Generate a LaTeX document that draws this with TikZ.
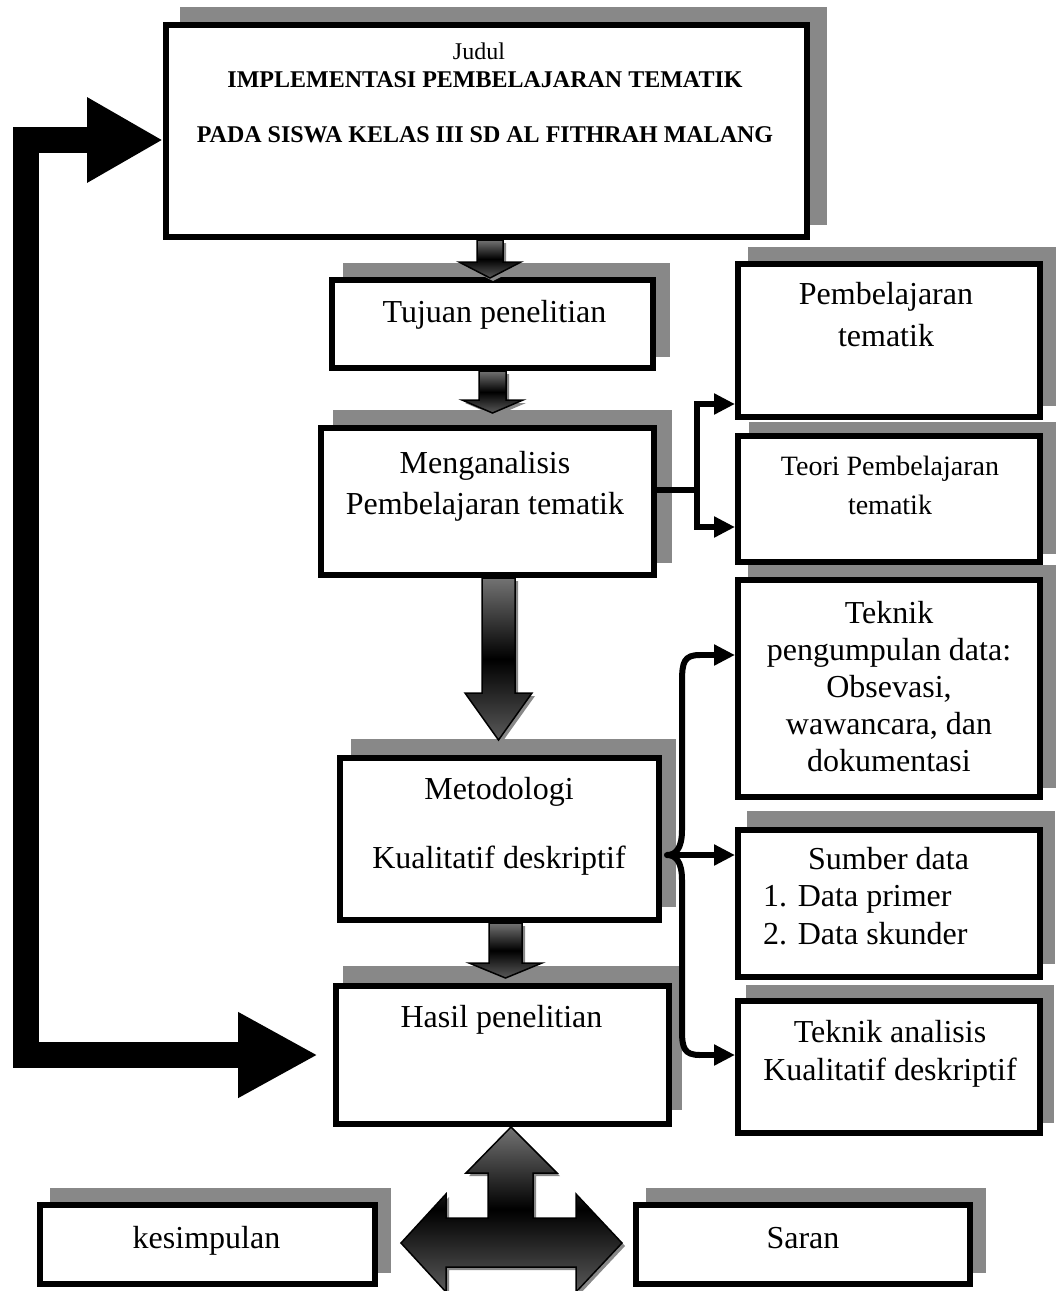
\documentclass[tikz,border=0pt]{standalone}
\usepackage{fontspec}
\setmainfont{Liberation Serif}
\usetikzlibrary{arrows.meta,calc,shadows,backgrounds}

\definecolor{bayang}{RGB}{136,136,136}

\tikzset{
  kotak/.style={draw, line width=6pt, fill=white, inner sep=0pt},
  teks/.style={inner sep=0pt, align=center, font=\fontsize{32}{41}\selectfont},
  garis/.style={line width=6pt, line join=round},
  panah/.style={line width=6pt, -{Triangle[length=21pt,width=20pt]}},
  blokpanah/.style={draw=black, line width=1.5pt, line join=miter,
    top color=black!55, bottom color=black!65, middle color=black,
    drop shadow={shadow xshift=3pt, shadow yshift=-3pt, fill=bayang, opacity=1}},
}

% panah blok turun: dari, ke, geser x, geser ujung, setengah batang, setengah kepala, panjang kepala
\newcommand{\panahturun}[7]{%
  \draw[blokpanah] let \p1=([xshift=#3]#1.south), \p2=([yshift=#4]#2.north) in
    (\x1-#5,\y1) -- (\x1+#5,\y1) -- (\x1+#5,\y2+#7) -- (\x1+#6,\y2+#7) -- (\x1,\y2)
    -- (\x1-#6,\y2+#7) -- (\x1-#5,\y2+#7) -- cycle;}

\begin{document}
\begin{tikzpicture}[x=1pt, y=-1pt]
        \useasboundingbox (0,0) rectangle (1056,1291);

        % kotak
        \node[kotak, minimum width=641pt, minimum height=212pt] (judul) at (486.5,131) {};
        \node[kotak, minimum width=321pt, minimum height=88pt] (tujuan) at (492.5,324) {};
        \node[kotak, minimum width=333pt, minimum height=147pt] (analisis) at (487.5,501.5) {};
        \node[kotak, minimum width=319pt, minimum height=162pt] (metode) at (499.5,839) {};
        \node[kotak, minimum width=333pt, minimum height=138pt] (hasil) at (502.5,1055) {};
        \node[kotak, minimum width=302pt, minimum height=153pt] (tematik) at (889,340.5) {};
        \node[kotak, minimum width=302pt, minimum height=126pt] (teori) at (889,499) {};
        \node[kotak, minimum width=302pt, minimum height=217pt] (teknik) at (889,688.5) {};
        \node[kotak, minimum width=302pt, minimum height=147pt] (sumber) at (889,903.5) {};
        \node[kotak, minimum width=302pt, minimum height=132pt] (analisisdata) at (889,1067) {};
        \node[kotak, minimum width=335pt, minimum height=79pt] (kesimpulan) at (207.5,1244.5) {};
        \node[kotak, minimum width=334pt, minimum height=79pt] (saran) at (803,1244.5) {};

        % bayangan
        \begin{scope}[on background layer]
          \foreach \kt/\dx/\dy in {judul/17/-15, tujuan/14/-14, analisis/15/-15, metode/14/-16,
              hasil/10/-17, tematik/13/-14, teori/14/-11, teknik/13/-12, sumber/12/-16,
              analisisdata/11/-13, kesimpulan/13/-14, saran/13/-14}
            \fill[bayang] ([shift={(\dx,\dy)}]\kt.south west) rectangle ([shift={(\dx,\dy)}]\kt.north east);
        \end{scope}

        % teks
        \node[teks, font=\fontsize{24}{28}\selectfont, anchor=north] (judul-teks) at (485,42.6)
          {\hspace*{-12pt}Judul\\\textbf{IMPLEMENTASI PEMBELAJARAN TEMATIK}\\[27pt]\textbf{PADA SISWA KELAS III SD AL FITHRAH MALANG}};
        \node[teks, anchor=base] (tujuan-teks) at (494.5,322) {Tujuan penelitian};
        \node[teks, anchor=north] (analisis-teks) at (485,451) {Menganalisis\\Pembelajaran tematik};
        \node[teks, anchor=north] (metode-teks) at (499,777) {Metodologi\\[28pt]Kualitatif deskriptif};
        \node[teks, anchor=base] (hasil-teks) at (501.5,1027) {Hasil penelitian};
        \node[teks, font=\fontsize{32}{42}\selectfont, anchor=north] (tematik-teks) at (886,282) {Pembelajaran\\tematik};
        \node[teks, font=\fontsize{28}{39}\selectfont, anchor=north] (teori-teks) at (890,456) {Teori Pembelajaran\\tematik};
        \node[teks, font=\fontsize{32}{37}\selectfont, anchor=north] (teknik-teks) at (889,601)
          {Teknik\\pengumpulan data:\\Obsevasi,\\wawancara, dan\\dokumentasi};
        \node[teks, font=\fontsize{32}{37.5}\selectfont, align=left, anchor=north west] (sumber-teks) at (763,847)
          {\hspace*{45pt}Sumber data\\1. Data primer\\2. Data skunder};
        \node[teks, font=\fontsize{32}{38}\selectfont, anchor=north] (analisisdata-teks) at (890,1020) {Teknik analisis\\Kualitatif deskriptif};
        \node[teks, anchor=base] (kesimpulan-teks) at (206.5,1248) {kesimpulan};
        \node[teks, anchor=base] (saran-teks) at (803,1248) {Saran};

        % panah blok
        \panahturun{judul}{tujuan}{3.5pt}{-1pt}{13pt}{31pt}{16pt}
        \panahturun{tujuan}{analisis}{0pt}{12pt}{13.5pt}{30.5pt}{13pt}
        \panahturun{analisis}{metode}{11pt}{15pt}{16.5pt}{33.5pt}{47pt}
        \panahturun{metode}{hasil}{6pt}{5pt}{16.5pt}{36.5pt}{15pt}

        % panah tiga arah
        \begin{scope}[shift={([xshift=8.5pt]hasil.south)}]
          \draw[blokpanah] (0,0) -- (46,46) -- (22,46) -- (22,91) -- (65,91) -- (65,67) -- (111,116)
            -- (65,165) -- (65,140) -- (-65,140) -- (-65,165) -- (-110,116) -- (-65,67) -- (-65,91)
            -- (-23,91) -- (-23,46) -- (-45,46) -- cycle;
        \end{scope}

        % panah besar kembali ke judul
        \draw[line width=26pt, {Triangle[length=80pt,width=80pt]}-{Triangle[length=76pt,width=80pt]}]
          ([xshift=-15pt]hasil.west) -| (26,140) -- ([yshift=-9pt]judul.west);

        % cabang ke kajian teori
        \coordinate (cabang) at (697,490);
        \draw[garis] (analisis.east |- cabang) -- (cabang);
        \draw[panah] (cabang) |- ([yshift=-63.5pt]tematik.west);
        \draw[panah] (cabang) |- ([yshift=-28pt]teori.west);

        % kurung kurawal metodologi
        \coordinate (kurung-atas) at (700,655);
        \coordinate (kurung-ujung) at ([shift={(5,16)}]metode.east);
        \coordinate (kurung-bawah) at (700,1055);
        \draw[garis] (kurung-atas) .. controls (684,655) and (682,662) .. (682,682) -- (682,830)
          .. controls (682,848) and (676,855) .. (kurung-ujung)
          .. controls (676,855) and (682,862) .. (682,880) -- (682,1030)
          .. controls (682,1048) and (684,1055) .. (kurung-bawah);
        \draw[panah] (kurung-atas) -- (teknik.west |- kurung-atas);
        \draw[panah] (kurung-ujung) -- (sumber.west |- kurung-ujung);
        \draw[panah] (kurung-bawah) -- (analisisdata.west |- kurung-bawah);
      \end{tikzpicture}
\end{document}
